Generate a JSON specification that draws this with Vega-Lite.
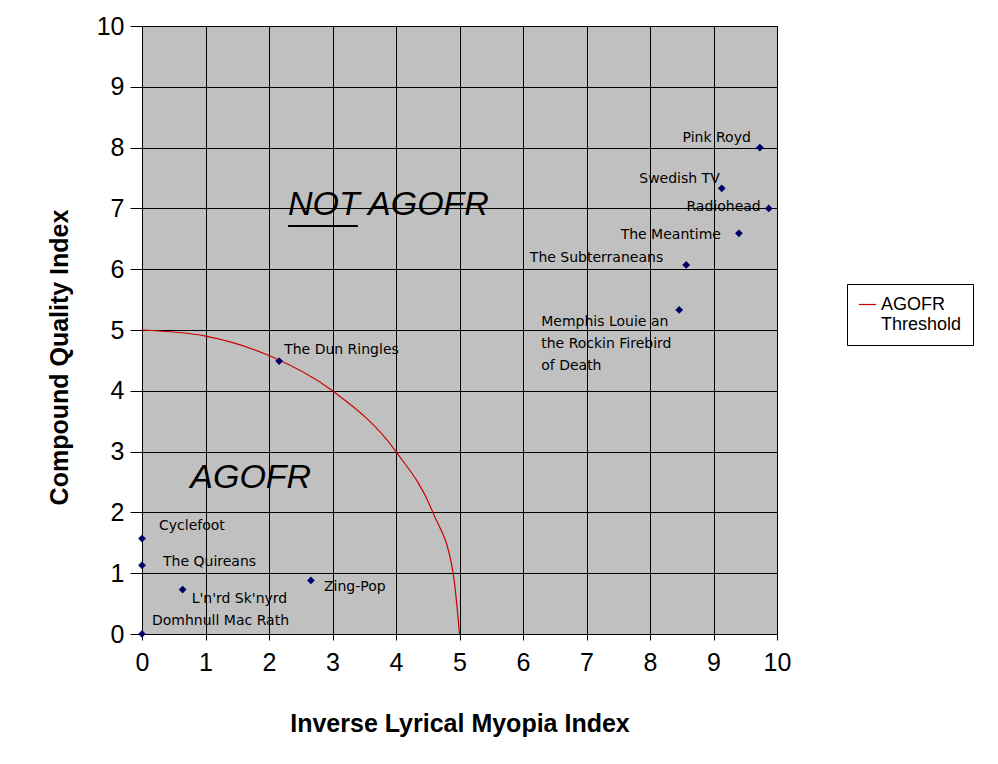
{
  "$schema": "https://vega.github.io/schema/vega-lite/v6.json",
  "width": 635,
  "height": 608,
  "autosize": {"type": "none"},
  "padding": {"left": 142, "top": 26, "right": 221, "bottom": 130},
  "background": "white",
  "config": {
    "view": {"fill": "#c0c0c0", "stroke": "#000000", "strokeWidth": 1},
    "font": "Liberation Sans",
    "axis": {
      "grid": true, "gridColor": "#000000", "gridOpacity": 1, "gridWidth": 1,
      "domain": false, "tickColor": "#000000", "labelColor": "#000000",
      "titleColor": "#000000", "labelFont": "Liberation Sans", "titleFont": "Liberation Sans",
      "format": "d", "labelOverlap": false, "labelBound": false, "labelFlush": false
    }
  },
  "datasets": {
    "bands": [
      {"band": "Pink Royd", "lyrical": 9.73, "quality": 8.0},
      {"band": "Swedish TV", "lyrical": 9.13, "quality": 7.33},
      {"band": "Radiohead", "lyrical": 9.87, "quality": 7.0},
      {"band": "The Meantime", "lyrical": 9.4, "quality": 6.59},
      {"band": "The Subterraneans", "lyrical": 8.57, "quality": 6.07},
      {"band": "Memphis Louie an\nthe Rockin Firebird\nof Death", "lyrical": 8.46, "quality": 5.33},
      {"band": "The Dun Ringles", "lyrical": 2.16, "quality": 4.49},
      {"band": "Cyclefoot", "lyrical": 0.0, "quality": 1.57},
      {"band": "The Quireans", "lyrical": 0.0, "quality": 1.13},
      {"band": "L'n'rd Sk'nyrd", "lyrical": 0.64, "quality": 0.73},
      {"band": "Zing-Pop", "lyrical": 2.66, "quality": 0.88},
      {"band": "Domhnull Mac Rath", "lyrical": 0.0, "quality": 0.0}
    ],
    "threshold": [
      {"series": "AGOFR Threshold", "lyrical": 0, "quality": 5},
      {"series": "AGOFR Threshold", "lyrical": 1, "quality": 4.9},
      {"series": "AGOFR Threshold", "lyrical": 2, "quality": 4.58},
      {"series": "AGOFR Threshold", "lyrical": 3, "quality": 4},
      {"series": "AGOFR Threshold", "lyrical": 4, "quality": 3},
      {"series": "AGOFR Threshold", "lyrical": 4.58, "quality": 2},
      {"series": "AGOFR Threshold", "lyrical": 4.9, "quality": 1},
      {"series": "AGOFR Threshold", "lyrical": 5, "quality": 0}
    ],
    "regions": [
      {"label": "NOT AGOFR", "lyrical": 2.3, "quality": 7.06},
      {"label": "AGOFR", "lyrical": 0.76, "quality": 2.56}
    ],
    "underline": [
      {"lyrical": 2.3, "lyrical_end": 3.4, "quality": 6.71}
    ]
  },
  "layer": [
    {
      "data": {"name": "threshold"},
      "mark": {"type": "line", "interpolate": "monotone", "strokeWidth": 1.2},
      "encoding": {
        "x": {
          "field": "lyrical", "type": "quantitative",
          "scale": {"domain": [0, 10], "nice": false},
          "axis": {
            "values": [0,1,2,3,4,5,6,7,8,9,10], "labelFontSize": 25, "tickSize": 6,
            "labelPadding": 10, "title": "Inverse Lyrical Myopia Index",
            "titleFontSize": 25, "titleFontWeight": "bold", "titlePadding": 36
          }
        },
        "y": {
          "field": "quality", "type": "quantitative",
          "scale": {"domain": [0, 10], "nice": false},
          "axis": {
            "values": [0,1,2,3,4,5,6,7,8,9,10], "labelFontSize": 25, "tickSize": 12,
            "labelPadding": 6, "title": "Compound Quality Index",
            "titleFontSize": 25, "titleFontWeight": "bold", "titlePadding": 24, "titleY": 331
          }
        },
        "color": {
          "field": "series", "type": "nominal",
          "scale": {"range": ["#cc0000"]},
          "legend": {
            "title": null, "orient": "none", "legendX": 705, "legendY": 258,
            "strokeColor": "#000000", "fillColor": "#ffffff", "padding": 11,
            "labelFontSize": 18, "labelFont": "Liberation Sans", "labelColor": "#000000",
            "symbolType": "stroke", "symbolStrokeWidth": 1.2, "symbolSize": 300,
            "labelExpr": "['AGOFR', 'Threshold']", "labelLimit": 200
          }
        }
      }
    },
    {
      "data": {"name": "bands"},
      "mark": {"type": "point", "shape": "diamond", "filled": true, "size": 60, "color": "#000066", "opacity": 1},
      "encoding": {
        "x": {"field": "lyrical", "type": "quantitative"},
        "y": {"field": "quality", "type": "quantitative"}
      }
    },
    {
      "data": {"name": "regions"},
      "mark": {"type": "text", "align": "left", "baseline": "middle", "fontSize": 34, "fontStyle": "italic", "color": "#000000", "font": "Liberation Sans"},
      "encoding": {
        "x": {"field": "lyrical", "type": "quantitative"},
        "y": {"field": "quality", "type": "quantitative"},
        "text": {"field": "label"}
      }
    },
    {
      "data": {"name": "underline"},
      "mark": {"type": "rule", "color": "#000000", "strokeWidth": 2},
      "encoding": {
        "x": {"field": "lyrical", "type": "quantitative"},
        "x2": {"field": "lyrical_end"},
        "y": {"field": "quality", "type": "quantitative"}
      }
    },
    {"data": {"name": "bands"}, "transform": [{"filter": "datum.band == 'Pink Royd'"}],
     "mark": {"type": "text", "align": "right", "baseline": "middle", "fontSize": 14, "font": "DejaVu Sans", "color": "#000000", "dx": -9, "dy": -10},
     "encoding": {"x": {"field": "lyrical", "type": "quantitative"}, "y": {"field": "quality", "type": "quantitative"}, "text": {"field": "band"}}},
    {"data": {"name": "bands"}, "transform": [{"filter": "datum.band == 'Swedish TV'"}],
     "mark": {"type": "text", "align": "right", "baseline": "middle", "fontSize": 14, "font": "DejaVu Sans", "color": "#000000", "dx": -2, "dy": -9},
     "encoding": {"x": {"field": "lyrical", "type": "quantitative"}, "y": {"field": "quality", "type": "quantitative"}, "text": {"field": "band"}}},
    {"data": {"name": "bands"}, "transform": [{"filter": "datum.band == 'Radiohead'"}],
     "mark": {"type": "text", "align": "right", "baseline": "middle", "fontSize": 14, "font": "DejaVu Sans", "color": "#000000", "dx": -8, "dy": -1},
     "encoding": {"x": {"field": "lyrical", "type": "quantitative"}, "y": {"field": "quality", "type": "quantitative"}, "text": {"field": "band"}}},
    {"data": {"name": "bands"}, "transform": [{"filter": "datum.band == 'The Meantime'"}],
     "mark": {"type": "text", "align": "right", "baseline": "middle", "fontSize": 14, "font": "DejaVu Sans", "color": "#000000", "dx": -18, "dy": 2},
     "encoding": {"x": {"field": "lyrical", "type": "quantitative"}, "y": {"field": "quality", "type": "quantitative"}, "text": {"field": "band"}}},
    {"data": {"name": "bands"}, "transform": [{"filter": "datum.band == 'The Subterraneans'"}],
     "mark": {"type": "text", "align": "right", "baseline": "middle", "fontSize": 14, "font": "DejaVu Sans", "color": "#000000", "dx": -23, "dy": -7},
     "encoding": {"x": {"field": "lyrical", "type": "quantitative"}, "y": {"field": "quality", "type": "quantitative"}, "text": {"field": "band"}}},
    {"data": {"name": "bands"}, "transform": [{"filter": "indexof(datum.band, 'Memphis') == 0"}],
     "mark": {"type": "text", "align": "left", "baseline": "middle", "fontSize": 14, "font": "DejaVu Sans", "color": "#000000", "dx": -138, "dy": 12, "lineBreak": "\n", "lineHeight": 22},
     "encoding": {"x": {"field": "lyrical", "type": "quantitative"}, "y": {"field": "quality", "type": "quantitative"}, "text": {"field": "band"}}},
    {"data": {"name": "bands"}, "transform": [{"filter": "datum.band == 'The Dun Ringles'"}],
     "mark": {"type": "text", "align": "left", "baseline": "middle", "fontSize": 14, "font": "DejaVu Sans", "color": "#000000", "dx": 5, "dy": -11},
     "encoding": {"x": {"field": "lyrical", "type": "quantitative"}, "y": {"field": "quality", "type": "quantitative"}, "text": {"field": "band"}}},
    {"data": {"name": "bands"}, "transform": [{"filter": "datum.band == 'Cyclefoot'"}],
     "mark": {"type": "text", "align": "left", "baseline": "middle", "fontSize": 14, "font": "DejaVu Sans", "color": "#000000", "dx": 17, "dy": -13},
     "encoding": {"x": {"field": "lyrical", "type": "quantitative"}, "y": {"field": "quality", "type": "quantitative"}, "text": {"field": "band"}}},
    {"data": {"name": "bands"}, "transform": [{"filter": "datum.band == 'The Quireans'"}],
     "mark": {"type": "text", "align": "left", "baseline": "middle", "fontSize": 14, "font": "DejaVu Sans", "color": "#000000", "dx": 21, "dy": -3},
     "encoding": {"x": {"field": "lyrical", "type": "quantitative"}, "y": {"field": "quality", "type": "quantitative"}, "text": {"field": "band"}}},
    {"data": {"name": "bands"}, "transform": [{"filter": "datum.band == \"L'n'rd Sk'nyrd\""}],
     "mark": {"type": "text", "align": "left", "baseline": "middle", "fontSize": 14, "font": "DejaVu Sans", "color": "#000000", "dx": 9, "dy": 9},
     "encoding": {"x": {"field": "lyrical", "type": "quantitative"}, "y": {"field": "quality", "type": "quantitative"}, "text": {"field": "band"}}},
    {"data": {"name": "bands"}, "transform": [{"filter": "datum.band == 'Zing-Pop'"}],
     "mark": {"type": "text", "align": "left", "baseline": "middle", "fontSize": 14, "font": "DejaVu Sans", "color": "#000000", "dx": 13, "dy": 7},
     "encoding": {"x": {"field": "lyrical", "type": "quantitative"}, "y": {"field": "quality", "type": "quantitative"}, "text": {"field": "band"}}},
    {"data": {"name": "bands"}, "transform": [{"filter": "datum.band == 'Domhnull Mac Rath'"}],
     "mark": {"type": "text", "align": "left", "baseline": "middle", "fontSize": 14, "font": "DejaVu Sans", "color": "#000000", "dx": 10, "dy": -13},
     "encoding": {"x": {"field": "lyrical", "type": "quantitative"}, "y": {"field": "quality", "type": "quantitative"}, "text": {"field": "band"}}}
  ]
}
